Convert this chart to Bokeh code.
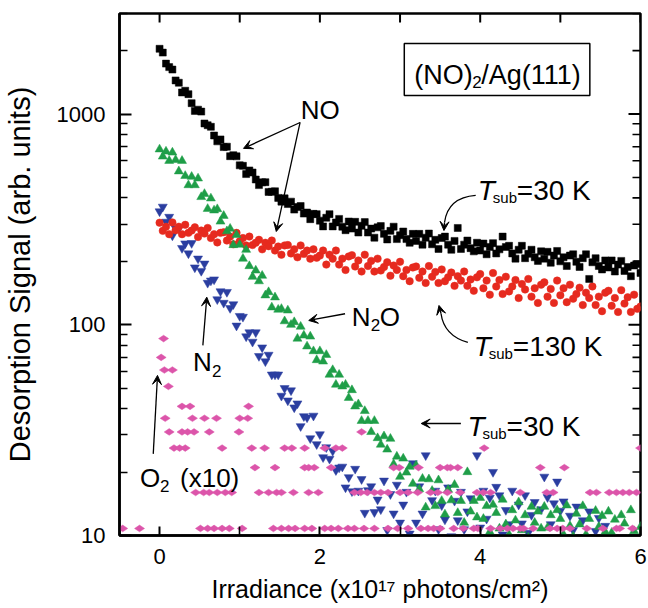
from bokeh.plotting import figure
from bokeh.models import (Range1d, FixedTicker, BasicTickFormatter,
                          Label, Arrow, VeeHead, BoxAnnotation)
from bokeh.embed import file_html
from bokeh.resources import INLINE

# ---------------- data ----------------
irradiance = [
    0.00, 0.04, 0.08, 0.12, 0.16, 0.20, 0.24, 0.28, 0.32, 0.36,
    0.40, 0.44, 0.48, 0.52, 0.56, 0.60, 0.64, 0.68, 0.72, 0.76,
    0.80, 0.84, 0.88, 0.92, 0.96, 1.00, 1.04, 1.08, 1.12, 1.16,
    1.20, 1.24, 1.28, 1.32, 1.36, 1.40, 1.44, 1.48, 1.52, 1.56,
    1.60, 1.64, 1.68, 1.72, 1.76, 1.80, 1.84, 1.88, 1.92, 1.96,
    2.00, 2.04, 2.08, 2.12, 2.16, 2.20, 2.24, 2.28, 2.32, 2.36,
    2.40, 2.44, 2.48, 2.52, 2.56, 2.60, 2.64, 2.68, 2.72, 2.76,
    2.80, 2.84, 2.88, 2.92, 2.96, 3.00, 3.04, 3.08, 3.12, 3.16,
    3.20, 3.24, 3.28, 3.32, 3.36, 3.40, 3.44, 3.48, 3.52, 3.56,
    3.60, 3.64, 3.68, 3.72, 3.76, 3.80, 3.84, 3.88, 3.92, 3.96,
    4.00, 4.04, 4.08, 4.12, 4.16, 4.20, 4.24, 4.28, 4.32, 4.36,
    4.40, 4.44, 4.48, 4.52, 4.56, 4.60, 4.64, 4.68, 4.72, 4.76,
    4.80, 4.84, 4.88, 4.92, 4.96, 5.00, 5.04, 5.08, 5.12, 5.16,
    5.20, 5.24, 5.28, 5.32, 5.36, 5.40, 5.44, 5.48, 5.52, 5.56,
    5.60, 5.64, 5.68, 5.72, 5.76, 5.80, 5.84, 5.88, 5.92, 5.96,
    6.00,
]

# NO, T_sub = 30 K (black squares)
no_30K = [
    2040, 1957, 1735, 1670, 1626, 1444, 1408, 1266, 1290, 1243,
    1126, 1035, 1049, 1027, 902, 885, 870, 791, 742, 758,
    697, 700, 631, 638, 630, 571, 568, 519, 540, 528,
    489, 460, 474, 475, 427, 428, 430, 400, 384, 398,
    374, 384, 352, 362, 366, 337, 341, 317, 336, 335,
    312, 293, 322, 335, 293, 306, 318, 292, 281, 309,
    286, 308, 274, 295, 307, 274, 286, 259, 290, 294,
    270, 254, 279, 292, 255, 266, 277, 255, 245, 270,
    250, 270, 240, 259, 271, 241, 253, 229, 258, 262,
    240, 227, 250, 288, 229, 240, 251, 231, 223, 245,
    225, 243, 216, 234, 244, 218, 228, 262, 234, 237,
    218, 206, 227, 237, 207, 217, 227, 209, 201, 223,
    206, 222, 197, 213, 224, 200, 209, 190, 213, 216,
    199, 188, 207, 216, 165, 198, 207, 190, 183, 202,
    187, 202, 179, 193, 201, 180, 188, 170, 191, 194,
    176,
]

# NO, T_sub = 130 K (red circles)
no_130K = [
    305, 279, 292, 269, 306, 281, 292, 269, 298, 273,
    280, 290, 261, 280, 271, 288, 258, 269, 246, 273,
    275, 251, 262, 241, 273, 249, 258, 238, 262, 239,
    245, 253, 228, 245, 236, 251, 225, 235, 215, 238,
    239, 218, 228, 209, 238, 217, 225, 206, 228, 208,
    213, 225, 193, 215, 206, 225, 193, 206, 182, 211,
    214, 189, 202, 179, 215, 190, 201, 179, 206, 181,
    188, 198, 171, 191, 182, 199, 170, 182, 161, 187,
    189, 167, 179, 158, 190, 169, 178, 158, 183, 161,
    168, 177, 153, 170, 162, 179, 153, 164, 145, 168,
    174, 149, 162, 139, 176, 152, 163, 140, 169, 144,
    152, 163, 134, 156, 147, 165, 136, 149, 127, 155,
    159, 136, 148, 127, 162, 138, 149, 128, 155, 133,
    140, 150, 124, 142, 134, 152, 124, 136, 116, 142,
    145, 123, 134, 115, 146, 126, 135, 115, 139, 119,
    122,
]

# N2O, T_sub = 30 K (green triangles)
n2o_30K = [
    680, 629, 664, 600, 657, 606, 535, 600, 509, 460,
    504, 460, 495, 404, 418, 355, 398, 349, 354, 309,
    329, 278, 286, 239, 267, 240, 206, 227, 190, 169,
    181, 161, 171, 138, 143, 121, 135, 118, 119, 104,
    117, 100, 103, 86, 98, 89, 79, 88, 75, 68,
    75, 67, 72, 58, 61, 52, 58, 51, 52, 45,
    49, 41, 42, 35, 39, 35, 31, 35, 29, 27,
    29.6, 25.6, 28.8, 21.8, 23.7, 19, 23.2, 19.9, 21.2, 17.6,
    21.5, 16.6, 18.6, 13.6, 18.5, 16.3, 13.8, 18.3, 14.6, 12.6,
    16.5, 14.7, 17.4, 12.8, 14.6, 11.5, 20, 13, 14.6, 12.2,
    15.1, 12, 13.8, 10.4, 14, 12.8, 10.8, 14.8, 11.3, 10.1,
    13.2, 11.8, 14.4, 10.6, 12.5, 9.8, 13.7, 11.5, 13, 10.8,
    13.7, 10.9, 12.5, 9.4, 13.2, 12, 10.1, 13.9, 11.1, 9.9,
    12.7, 11.3, 13.8, 10.1, 12, 9.4, 13.1, 11, 12.4, 10.4,
    13, 10.3, 11.9, 9, 12.5, 11.4, 9.6, 13.2, 10.5, 9.4,
    11,
]

# N2, T_sub = 30 K (blue inverted triangles)
n2_30K = [
    345, 363, 308, 325, 265, 287, 286, 231, 243, 218,
    244, 187, 206, 180, 195, 158, 162, 164, 132, 144,
    127, 143, 120, 125, 99, 110, 109, 88, 92, 83,
    92, 71, 78, 67, 72, 58, 58, 58, 46, 50,
    43.7, 48.8, 40.5, 42.3, 33, 36.8, 36.3, 28.9, 37, 27.1,
    30.2, 23.5, 26.2, 23.1, 25.2, 20.4, 21, 21.2, 16.9, 18.9,
    16.2, 20.7, 16.3, 18.5, 12.8, 16.4, 17.1, 12.9, 14.8, 13.3,
    18.2, 10.6, 15.7, 12.7, 17.4, 11.5, 14, 16.1, 10.2, 22,
    11.5, 17.1, 12.7, 24, 9.5, 14.7, 16.3, 10.7, 13.9, 11.9,
    16.9, 9.9, 14.6, 11.8, 16.1, 10.7, 13, 15, 9.5, 24,
    10.9, 16.3, 12, 15.1, 20, 17, 15.5, 10.1, 13.2, 11.3,
    16.3, 9.5, 14, 11.4, 15.5, 10.3, 12.5, 14.4, 9.1, 13.3,
    19, 15.2, 11.3, 14.2, 18, 13.1, 14.5, 9.5, 12.4, 10.6,
    13.7, 8, 11.8, 9.6, 13, 8.6, 10.5, 12.1, 7.7, 11.1,
    7.2, 9.4, 8, 8.8, 6, 8.3, 9, 6.7, 7.8, 7.5,
    7,
]

# O2 (x10), T_sub = 30 K (magenta diamonds)
o2_x = [
    0.05,
    0.02,
    0.06, 0.16,
    0.11,
    0.28, 0.38, 1.11,
    0.07, 0.41, 0.56, 0.71, 1.00, 1.10,
    0.12, 0.28, 0.35, 0.43, 0.62, 0.99, 2.52,
    0.18, 0.25, 0.32, 0.78, 1.15, 1.31, 1.56, 1.65, 1.81, 2.06, 2.20, 2.28, 4.05, 6.00,
    1.19, 1.44, 1.81, 1.86, 1.93, 2.14, 2.92, 2.99, 3.23, 3.50, 3.59, 3.63, 3.72, 4.75, 5.05,
    0.45, 0.55, 0.62, 0.72, 0.82, 0.90, 1.24, 1.36, 1.46, 1.52, 1.67, 1.86, 1.98,
    2.43, 2.51, 2.59, 2.68, 2.76, 2.85, 3.00, 3.10, 3.22, 3.38, 3.47, 3.59, 3.75,
    3.96, 4.04, 4.13, 4.50, 4.83, 4.91, 5.37, 5.45, 5.61, 5.70, 5.78, 5.86, 5.95,
    -0.46, -0.25, 0.51, 0.60, 0.68, 0.78, 0.87, 1.03, 1.42, 1.52, 1.61, 1.69,
    1.81, 1.90, 2.06, 2.14, 2.23, 2.35, 2.43, 2.55, 2.68, 2.85, 2.97, 3.10,
    3.26, 3.35, 3.42, 3.50, 3.67, 3.79, 3.92, 3.97, 4.13, 4.25, 4.34, 4.41,
    4.50, 4.54, 4.66, 4.87, 4.96, 5.03, 5.12, 5.33, 5.53, 5.70, 5.74, 5.90,
]
o2_x10 = [
    86,
    70,
    61, 61,
    51,
    41, 41, 41,
    36, 36, 36, 36, 36, 36,
    31, 31, 31, 31, 31, 31, 31,
    26, 26, 26, 26, 26, 26, 26, 26, 26, 26, 26, 26, 26, 26,
    21, 21, 21, 21, 21, 21, 21, 21, 21, 21, 21, 21, 21, 21, 21,
    16, 16, 16, 16, 16, 16, 16, 16, 16, 16, 16, 16, 16,
    16, 16, 16, 16, 16, 16, 16, 16, 16, 16, 16, 16, 16,
    16, 16, 16, 16, 16, 16, 16, 16, 16, 16, 16, 16, 16,
    10.8, 10.8, 10.8, 10.8, 10.8, 10.8, 10.8, 10.8, 10.8, 10.8, 10.8, 10.8,
    10.8, 10.8, 10.8, 10.8, 10.8, 10.8, 10.8, 10.8, 10.8, 10.8, 10.8, 10.8,
    10.8, 10.8, 10.8, 10.8, 10.8, 10.8, 10.8, 10.8, 10.8, 10.8, 10.8, 10.8,
    10.8, 10.8, 10.8, 10.8, 10.8, 10.8, 10.8, 10.8, 10.8, 10.8, 10.8, 10.8,
]

x_ticks = [0, 2, 4, 6]
x_minor_ticks = [1, 3, 5]
y_ticks = [10, 100, 1000]
y_minor_ticks = [20, 30, 40, 50, 60, 70, 80, 90,
                 200, 300, 400, 500, 600, 700, 800, 900, 2000, 3000]

X_MIN, X_MAX = -0.5, 6.0
Y_MIN, Y_MAX = 10, 3000

# ---------------- figure ----------------
FONT = "Liberation Sans"

p = figure(frame_width=521, frame_height=522,
           x_range=Range1d(X_MIN, X_MAX), y_range=Range1d(Y_MIN, Y_MAX),
           y_axis_type="log", output_backend="svg", toolbar_location=None,
           min_border_left=116, min_border_right=10, min_border_top=13,
           min_border_bottom=0)
p.xgrid.visible = False
p.ygrid.visible = False
p.outline_line_color = "black"
p.outline_line_width = 2.5
p.background_fill_color = "white"
p.border_fill_color = "white"


def style_axis(ax, major, minor, standoff):
    ax.axis_line_width = 2.5
    ax.axis_line_color = "black"
    ax.major_tick_in = major
    ax.major_tick_out = 0
    ax.minor_tick_in = minor
    ax.minor_tick_out = 0
    ax.major_tick_line_width = 2
    ax.minor_tick_line_width = 1.6
    ax.major_tick_line_color = "black"
    ax.minor_tick_line_color = "black"
    ax.major_label_text_font = FONT
    ax.major_label_text_font_size = "22px"
    ax.major_label_text_color = "black"
    ax.major_label_standoff = standoff
    ax.axis_label_text_font = FONT
    ax.axis_label_text_font_style = "normal"
    ax.axis_label_text_color = "black"


xa = p.xaxis[0]
xa.ticker = FixedTicker(ticks=x_ticks, minor_ticks=x_minor_ticks)
style_axis(xa, 9, 9, 13)
xa.axis_label = "Irradiance (x10\u00b9\u2077 photons/cm\u00b2)"
xa.axis_label_text_font_size = "25px"
xa.axis_label_standoff = 8

ya = p.yaxis[0]
ya.ticker = FixedTicker(ticks=y_ticks, minor_ticks=y_minor_ticks)
ya.formatter = BasicTickFormatter(use_scientific=False)
style_axis(ya, 12, 8, 14)
ya.axis_label = "Desorption Signal (arb. units)"
ya.axis_label_text_font_size = "29px"
ya.axis_label_standoff = 18

# mirrored ticks on the top and right frame edges (clipped to the frame)
tick_kw = dict(marker="dash", line_color="black", fill_color="black")
p.scatter(x_ticks + x_minor_ticks, [Y_MAX] * 7, size=18, angle=1.5708,
          line_width=2, **tick_kw)
p.scatter([X_MAX] * 3, y_ticks, size=24, line_width=2, **tick_kw)
p.scatter([X_MAX] * len(y_minor_ticks), y_minor_ticks, size=16,
          line_width=1.6, **tick_kw)

# ---------------- data marks ----------------
p.scatter(irradiance, n2_30K, marker="inverted_triangle", size=9,
          fill_color="#2b3ea0", line_color="#2b3ea0", line_width=0.5)
p.scatter(irradiance, no_130K, marker="circle", size=7.5,
          fill_color="#e62a1f", line_color="#e62a1f", line_width=0.5)
p.scatter(irradiance, n2o_30K, marker="triangle", size=9,
          fill_color="#1f9e48", line_color="#1f9e48", line_width=0.5)
p.scatter(irradiance, no_30K, marker="square", size=7,
          fill_color="black", line_color="black", line_width=0.5)
p.scatter(o2_x, o2_x10, marker="diamond", size=10, angle=1.5708,
          fill_color="#dc55aa", line_color="#dc55aa", line_width=0.5)


# ---------------- annotations ----------------
LIFT = 7  # px, raises every annotation text onto the reference baselines


def lab(x, y, text, size=26, dx=0, dy=0, style="normal"):
    p.add_layout(Label(x=x, y=y, text=text, x_offset=dx, y_offset=dy + LIFT,
                       text_font=FONT, text_font_size=f"{size}px",
                       text_font_style=style, text_align="left",
                       text_baseline="alphabetic", text_color="black"))


def arrow(x0, y0, x1, y1):
    p.add_layout(Arrow(end=VeeHead(size=9, line_color="black",
                                   fill_color="black", line_width=1),
                       x_start=x0, y_start=y0, x_end=x1, y_end=y1,
                       line_width=1.3, line_color="black"))


# NO label with two arrows
lab(1.76, 963, "NO")
arrow(1.753, 912, 1.047, 687)
arrow(1.753, 912, 1.456, 277)

# (NO)2/Ag(111) box
p.add_layout(BoxAnnotation(left=3.053, right=5.368, bottom=1225, top=2163,
                           fill_alpha=0, line_color="black", line_alpha=1,
                           line_width=1.5))
lab(3.177, 1412, "(NO)", size=27)
lab(3.177, 1412, "2", size=17, dx=58, dy=-7)
lab(3.177, 1412, "/Ag(111)", size=27, dx=67)

# T_sub = 30 K (upper, NO)
lab(3.970, 402, "T", size=28, style="italic")
lab(3.970, 402, "sub", size=15, dx=15, dy=-7)
lab(3.970, 402, "=30 K", size=28, dx=39)
p.quadratic(x0=[3.944], y0=[411], x1=[3.555], y1=[306], cx=[3.598], cy=[402],
            line_color="black", line_width=1.3)
arrow(3.555, 306, 3.548, 280)

# T_sub = 130 K
lab(3.920, 73.1, "T", size=28, style="italic")
lab(3.920, 73.1, "sub", size=15, dx=15, dy=-7)
lab(3.920, 73.1, "=130 K", size=28, dx=39)
p.quadratic(x0=[3.846], y0=[82.4], x1=[3.511], y1=[113.1], cx=[3.548], cy=[88.9],
            line_color="black", line_width=1.3)
arrow(3.511, 113.1, 3.486, 123.5)

# T_sub = 30 K (lower, N2O / N2 / O2)
lab(3.842, 30.5, "T", size=28, style="italic")
lab(3.842, 30.5, "sub", size=15, dx=15, dy=-7)
lab(3.842, 30.5, "=30 K", size=28, dx=39)
arrow(3.759, 34.0, 3.264, 34.0)

# N2O
lab(2.397, 101.1, "N")
lab(2.397, 101.1, "2", size=17, dx=19, dy=-8)
lab(2.397, 101.1, "O", dx=28)
arrow(2.314, 112.8, 1.861, 104.8)

# N2
lab(0.418, 61.8, "N")
lab(0.418, 61.8, "2", size=17, dx=19, dy=-9)
arrow(0.54, 79.8, 0.589, 135.2)

# O2 (x10)
lab(-0.244, 17.3, "O")
lab(-0.244, 17.3, "2", size=17, dx=20, dy=-8)
lab(-0.244, 17.3, "(x10)", dx=40)
arrow(-0.079, 24.4, -0.026, 57.5)

open("out.html", "w").write(file_html(p, INLINE))
